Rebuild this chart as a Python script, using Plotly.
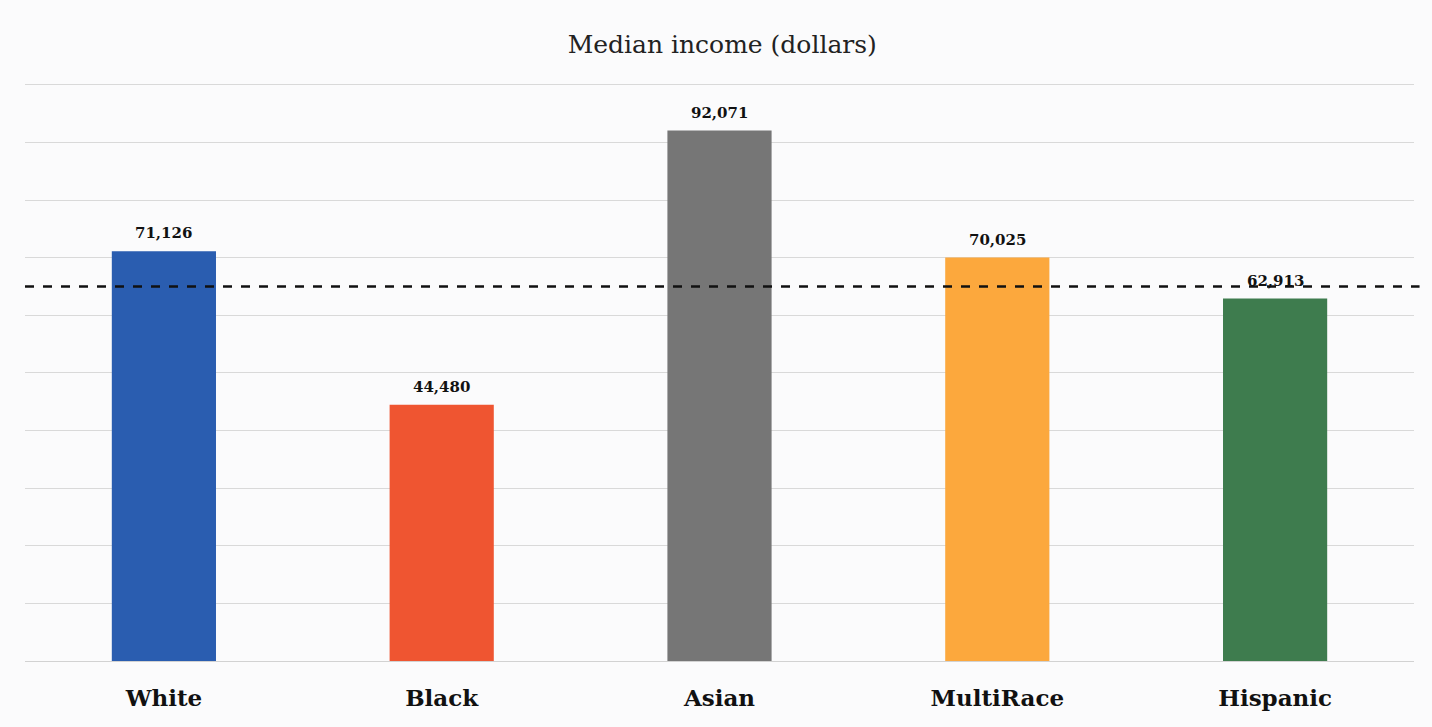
import plotly.graph_objects as go

# Median household income by race/ethnicity
groups = ["White", "Black", "Asian", "MultiRace", "Hispanic"]
median_income = [71126, 44480, 92071, 70025, 62913]
bar_colors = ["#2a5db0", "#ef5531", "#767676", "#fca83d", "#3e7c4e"]
overall_median = 65000  # reference level drawn as a dashed line

value_labels = [f"{v:,}" for v in median_income]

fig = go.Figure()
fig.add_trace(go.Bar(
    x=groups,
    y=median_income,
    marker=dict(color=bar_colors, line=dict(width=0)),
    hoverinfo="x+y",
))

# value labels sit just above each bar
for g, v, lbl in zip(groups, median_income, value_labels):
    fig.add_annotation(
        x=g, y=v, text=lbl, showarrow=False,
        xanchor="center", yanchor="bottom", yshift=7,
        font=dict(family="DejaVu Serif", size=15, color="#111111", weight="bold"),
    )

fig.add_shape(
    type="line", xref="paper", yref="y",
    x0=0, x1=1.004, y0=overall_median, y1=overall_median,
    line=dict(color="#111111", width=2.5, dash="dash"),
    layer="above",
)

fig.update_layout(
    width=1432, height=727,
    margin=dict(l=25, r=18, t=82, b=66),
    paper_bgcolor="#fbfbfc",
    plot_bgcolor="#fbfbfc",
    showlegend=False,
    bargap=0.625,
    title=dict(
        text="Median income (dollars)",
        x=0.502, xref="paper", xanchor="center",
        y=1 - 44 / 727, yref="container", yanchor="middle",
        font=dict(family="DejaVu Serif", size=25, color="#222222"),
    ),
    xaxis=dict(
        showgrid=False, showline=False, zeroline=False,
        ticks="", ticklabelstandoff=21,
        tickfont=dict(family="DejaVu Serif", size=23, color="#111111", weight="bold"),
        automargin=False,
    ),
    yaxis=dict(
        range=[0, 100500], dtick=10000,
        showgrid=True, gridcolor="#d9d9d9", gridwidth=1,
        zeroline=True, zerolinecolor="#d2d2d2", zerolinewidth=1,
        showticklabels=False, showline=False, automargin=False,
    ),
)

fig.write_html("out.html")
